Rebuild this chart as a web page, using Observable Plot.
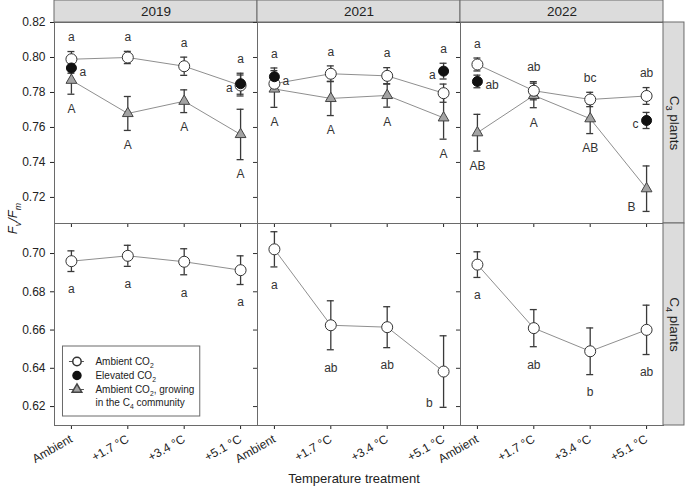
<!DOCTYPE html>
<html><head><meta charset="utf-8">
<script src="https://cdn.jsdelivr.net/npm/d3@7"></script>
<script src="https://cdn.jsdelivr.net/npm/@observablehq/plot@0.6"></script>
<style>
body{margin:0;background:#fff;}
#chart{width:685px;height:487px;position:relative;overflow:hidden;}
#chart svg{display:block;overflow:visible;background:transparent;}
</style></head><body><div id="chart"></div><script>
// ---------------- data ----------------
const years = ["2019", "2021", "2022"];
const treatments = ["Ambient", "+1.7 °C", "+3.4 °C", "+5.1 °C"];
const yTicksC3 = [0.72, 0.74, 0.76, 0.78, 0.80, 0.82];
const yTicksC4 = [0.62, 0.64, 0.66, 0.68, 0.70];

// C3 plants, ambient CO2 (open circles) [year][treatment]
const c3AmbientMean = [[0.799, 0.800, 0.795, 0.784], [0.785, 0.7907, 0.7895, 0.7796], [0.796, 0.781, 0.776, 0.778]];
const c3AmbientSE = [[0.0044, 0.0035, 0.0052, 0.006], [0.004, 0.0045, 0.0047, 0.0052], [0.0037, 0.0052, 0.0041, 0.0048]];
const c3AmbientLetters = [["a", "a", "a", "a"], ["a", "a", "a", "a"], ["a", "ab", "bc", "ab"]];
const c3AmbientSides = [["top", "top", "top", "top"], ["top", "top", "top", "top"], ["top", "top", "top", "top"]];

// C3 plants, elevated CO2 (filled circles)
const c3ElevatedMean = [[0.794, null, null, 0.785], [0.789, null, null, 0.7922], [0.7863, null, null, 0.764]];
const c3ElevatedSE = [[0.003, null, null, 0.006], [0.005, null, null, 0.0045], [0.0036, null, null, 0.0046]];
const c3ElevatedLetters = [["a", null, null, "a"], ["a", null, null, "a"], ["ab", null, null, "c"]];
const c3ElevatedSides = [["right", null, null, "left"], ["right", null, null, "left"], ["right", null, null, "left"]];

// C3 plants, ambient CO2, growing in the C4 community (triangles)
const c3InC4Mean = [[0.787, 0.768, 0.775, 0.756], [0.782, 0.7766, 0.7783, 0.7655], [0.757, 0.7783, 0.765, 0.725]];
const c3InC4SE = [[0.008, 0.0097, 0.0065, 0.0144], [0.0105, 0.0098, 0.0067, 0.0122], [0.0105, 0.007, 0.0085, 0.013]];
const c3InC4Letters = [["A", "A", "A", "A"], ["A", "A", "A", "A"], ["AB", "A", "AB", "B"]];
const c3InC4Sides = [["below", "below", "below", "below"], ["below", "below", "below", "below"], ["below", "below", "below", "lowleft"]];

// C4 plants, ambient CO2 (open circles)
const c4Mean = [[0.696, 0.6988, 0.6957, 0.6913], [0.7022, 0.6625, 0.6615, 0.6383], [0.6942, 0.661, 0.6489, 0.6601]];
const c4SE = [[0.0054, 0.0055, 0.0068, 0.0075], [0.0092, 0.0128, 0.0107, 0.0187], [0.0067, 0.0097, 0.0122, 0.0129]];
const c4Letters = [["a", "a", "a", "a"], ["a", "ab", "ab", "b"], ["a", "ab", "b", "ab"]];
const c4Sides = [["below", "below", "below", "below"], ["below", "below", "below", "lowleft"], ["below", "below", "below", "below"]];

const rowLabels = ["C_{3} plants", "C_{4} plants"];
const legendLabels = ["Ambient CO_{2}", "Elevated CO_{2}", "Ambient CO_{2}, growing", "in the C_{4} community"];
const yAxisLabel = "F_{v}/F_{m}";
const xAxisLabel = "Temperature treatment";

// ---------------- layout ----------------
const W = 685, ML = 53, MR = 22;
const FW = (W - ML - MR) / 3;
const xDom = [-0.3, 3.3];
const upx = (xDom[1] - xDom[0]) / FW;
const capU = 3.5 * upx;

const topH = 223, topMT = 22;
const topDom = [0.7051, 0.82];
const uyTop = (topDom[1] - topDom[0]) / (topH - topMT);

const botH = 264, botMB = 62;
const botDom = [0.6101, 0.7157];
const uyBot = (botDom[1] - botDom[0]) / (botH - botMB);

const lx = px => xDom[0] + px * upx;

const INK = "#333";
const ERR = "#3a3a3a";
const LINE = "#8f8f8f";
const STRIP = "#dcdcdc";
const FRAME = "#6a6a6a";
const FONT = '"Liberation Sans", Arial, Helvetica, sans-serif';

function buildRows(mean, se, letters, sides, series) {
  const out = [];
  years.forEach((yr, k) => mean[k].forEach((m, i) => {
    if (m == null) return;
    const s = se[k][i];
    out.push({year: yr, i, mean: m, se: s, lo: m - s, hi: m + s,
      letter: letters[k][i], side: sides[k][i], series});
  }));
  return out;
}
function setAnchors(rows) {
  rows.forEach(d => {
    const same = rows.filter(e => e.year === d.year && e.i === d.i);
    if (d.side === "top") d.anchor = d3.max(same, e => e.hi);
    else if (d.side === "below") d.anchor = d3.min(same, e => e.lo);
    else if (d.side === "lowleft") d.anchor = d.lo;
    else d.anchor = d.mean;
  });
}
function errMarks(rows) {
  return [
    Plot.ruleX(rows, {fx: "year", x: "i", y1: "lo", y2: "hi", stroke: ERR, strokeWidth: 1.3}),
    Plot.ruleY(rows, {fx: "year", y: "hi", x1: d => d.i - capU, x2: d => d.i + capU, stroke: ERR, strokeWidth: 1.3}),
    Plot.ruleY(rows, {fx: "year", y: "lo", x1: d => d.i - capU, x2: d => d.i + capU, stroke: ERR, strokeWidth: 1.3})
  ];
}
function letterMarks(rows, belowGap) {
  const all = rows.filter(d => d.letter);
  const sel = s => all.filter(d => d.side === s);
  const base = {fx: "year", x: "i", y: "anchor", text: "letter", fontSize: 12, fill: INK};
  return [
    Plot.text(sel("top"), {...base, dy: -14}),
    Plot.text(sel("below"), {...base, dy: belowGap}),
    Plot.text(sel("right"), {...base, dx: 8, dy: 4, textAnchor: "start"}),
    Plot.text(sel("left"), {...base, dx: -8, dy: 4, textAnchor: "end"}),
    Plot.text(sel("lowleft"), {...base, dx: -11, dy: -4, textAnchor: "end"})
  ];
}
function frameMarks(dom, ticks, rowLabel) {
  const tickRows = [];
  years.slice(1).forEach(yr => ticks.forEach(v => tickRows.push({year: yr, v})));
  return [
    Plot.frame({stroke: FRAME}),
    Plot.ruleY(tickRows, {fx: "year", y: "v", x1: xDom[0] - 4 * upx, x2: xDom[0], stroke: INK}),
    Plot.rect([years[2]], {fx: d => d, x1: xDom[1], x2: xDom[1] + 21 * upx, y1: dom[0], y2: dom[1], fill: STRIP, stroke: FRAME}),
    Plot.text([years[2]], {fx: d => d, x: xDom[1] + 10.5 * upx, y: (dom[0] + dom[1]) / 2, text: () => rowLabel, rotate: 90, fontSize: 13.5, fill: "#222"})
  ];
}
function subscripts(svg) {
  svg.querySelectorAll("text").forEach(t => {
    const s = t.textContent;
    if (!s.includes("_{") || t.querySelector("tspan")) return;
    const fs = parseFloat(getComputedStyle(t).fontSize) || 12;
    const shift = +(fs * 0.3).toFixed(1);
    const parts = s.split(/(_\{[^}]*\})/).filter(p => p);
    t.textContent = "";
    let pending = 0;
    parts.forEach(p => {
      const ts = document.createElementNS("http://www.w3.org/2000/svg", "tspan");
      if (p.startsWith("_{")) {
        ts.textContent = p.slice(2, -1);
        ts.setAttribute("font-size", (fs * 0.68).toFixed(1));
        ts.setAttribute("dy", shift);
        pending = -shift;
      } else {
        ts.textContent = p;
        if (pending) ts.setAttribute("dy", pending);
        pending = 0;
      }
      t.appendChild(ts);
    });
  });
}

const plotStyle = {fontFamily: FONT, fontSize: "12px", color: "#222", background: "transparent", overflow: "visible"};

// ---------------- C3 row ----------------
const ambRows = buildRows(c3AmbientMean, c3AmbientSE, c3AmbientLetters, c3AmbientSides, "amb");
const elevRows = buildRows(c3ElevatedMean, c3ElevatedSE, c3ElevatedLetters, c3ElevatedSides, "elev");
const triRows = buildRows(c3InC4Mean, c3InC4SE, c3InC4Letters, c3InC4Sides, "tri");
const c3All = [...ambRows, ...elevRows, ...triRows];
setAnchors(c3All);

const topPlot = Plot.plot({
  width: W, height: topH, marginLeft: ML, marginRight: MR, marginTop: topMT, marginBottom: 0,
  style: plotStyle,
  fx: {domain: years, padding: 0, axis: null, label: null},
  x: {domain: xDom, ticks: [0, 1, 2, 3], tickFormat: () => "", tickSize: 4, label: null},
  y: {domain: topDom, ticks: yTicksC3, tickFormat: d => d.toFixed(2), tickSize: 4, label: null},
  marks: [
    Plot.rect(years, {fx: d => d, x1: xDom[0], x2: xDom[1], y1: topDom[1], y2: topDom[1] + topMT * uyTop, fill: STRIP, stroke: FRAME}),
    Plot.text(years, {fx: d => d, x: (xDom[0] + xDom[1]) / 2, y: topDom[1] + 11 * uyTop, text: d => d, fontSize: 13.5, fill: "#222"}),
    ...frameMarks(topDom, yTicksC3, rowLabels[0]),
    Plot.line(ambRows, {fx: "year", x: "i", y: "mean", stroke: LINE, strokeWidth: 1}),
    Plot.line(triRows, {fx: "year", x: "i", y: "mean", stroke: LINE, strokeWidth: 1}),
    ...errMarks(triRows),
    ...errMarks(ambRows),
    ...errMarks(elevRows),
    Plot.dot(triRows, {fx: "year", x: "i", y: "mean", symbol: "triangle", r: 4, fill: "#a3a3a3", stroke: "#444", strokeWidth: 1}),
    Plot.dot(ambRows, {fx: "year", x: "i", y: "mean", r: 5.5, fill: "white", stroke: INK, strokeWidth: 1}),
    Plot.dot(elevRows, {fx: "year", x: "i", y: "mean", r: 5, fill: "#111", stroke: "#111", strokeWidth: 1}),
    ...letterMarks(c3All, 15),
    Plot.text([years[0]], {fx: d => d, x: lx(-42), y: topDom[1] - 196 * uyTop, text: () => yAxisLabel, rotate: -90, fontSize: 13, fontStyle: "italic", fill: "#222"})
  ]
});

// ---------------- C4 row ----------------
const c4Rows = buildRows(c4Mean, c4SE, c4Letters, c4Sides, "c4");
setAnchors(c4Rows);
const lyB = py => botDom[1] - py * uyBot;
const legendY = [138, 152, 166, 179];

const bottomPlot = Plot.plot({
  width: W, height: botH, marginLeft: ML, marginRight: MR, marginTop: 0, marginBottom: botMB,
  style: plotStyle,
  fx: {domain: years, padding: 0, axis: null, label: null},
  x: {domain: xDom, ticks: [0, 1, 2, 3], tickFormat: i => treatments[i], tickRotate: -30, tickSize: 4, label: null},
  y: {domain: botDom, ticks: yTicksC4, tickFormat: d => d.toFixed(2), tickSize: 4, label: null},
  marks: [
    ...frameMarks(botDom, yTicksC4, rowLabels[1]),
    Plot.line(c4Rows, {fx: "year", x: "i", y: "mean", stroke: LINE, strokeWidth: 1}),
    ...errMarks(c4Rows),
    Plot.dot(c4Rows, {fx: "year", x: "i", y: "mean", r: 5.5, fill: "white", stroke: INK, strokeWidth: 1}),
    ...letterMarks(c4Rows, 18),
    // legend
    Plot.rect([years[0]], {fx: d => d, x1: lx(8.5), x2: lx(146), y1: lyB(193), y2: lyB(123), fill: "white", stroke: FRAME}),
    Plot.ruleY([0, 2], {fx: () => years[0], y: k => lyB(legendY[k]), x1: lx(15), x2: lx(30), stroke: "#555"}),
    Plot.dot([0], {fx: () => years[0], x: lx(22.5), y: lyB(legendY[0]), r: 4.2, fill: "white", stroke: INK}),
    Plot.dot([1], {fx: () => years[0], x: lx(22.5), y: lyB(legendY[1]), r: 4, fill: "#111", stroke: "#111"}),
    Plot.dot([2], {fx: () => years[0], x: lx(22.5), y: lyB(legendY[2]), r: 3.6, symbol: "triangle", fill: "#a3a3a3", stroke: "#444"}),
    Plot.text([0, 1, 2, 3], {fx: () => years[0], x: lx(41), y: k => lyB(legendY[k]), text: k => legendLabels[k], textAnchor: "start", fontSize: 10, fill: "#222"}),
    Plot.text([years[1]], {fx: d => d, x: lx(96.7), y: lyB(255), text: () => xAxisLabel, fontSize: 13, fill: "#222"})
  ]
});

const chart = document.getElementById("chart");
chart.appendChild(topPlot);
chart.appendChild(bottomPlot);
[topPlot, bottomPlot].forEach(s => subscripts(s.tagName === "svg" ? s : s.querySelector("svg")));
</script></body></html>
